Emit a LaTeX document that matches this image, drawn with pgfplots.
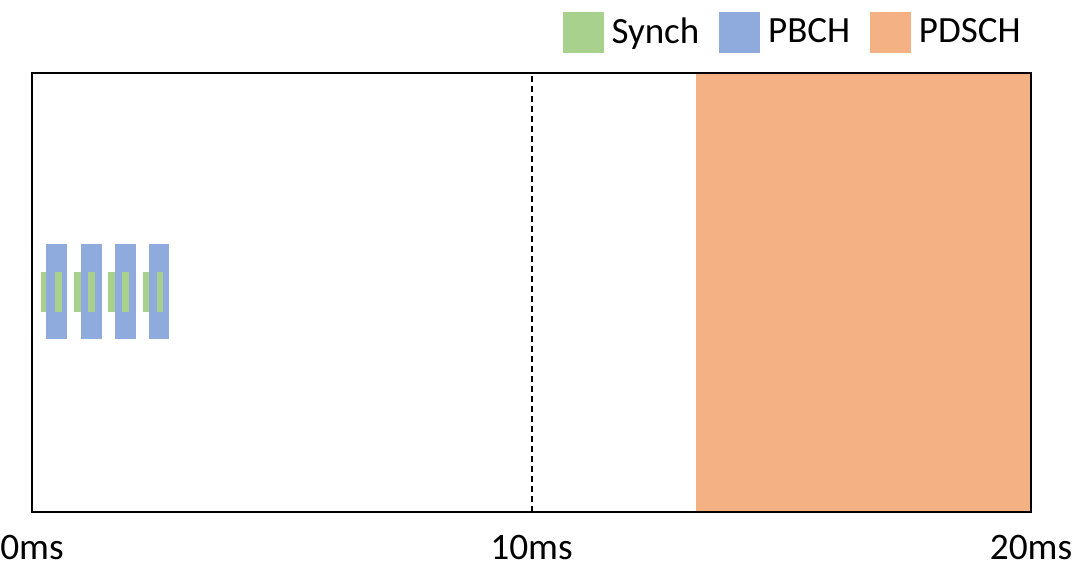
\documentclass[border=0pt]{standalone}
\usepackage{fontspec}
\setmainfont{Carlito}
\usepackage{pgfplots}
\pgfplotsset{compat=1.18}

\definecolor{synchgreen}{HTML}{A9D18E}
\definecolor{pbchblue}{HTML}{8FAADC}
\definecolor{pdschorange}{HTML}{F4B183}

\begin{document}
\begin{tikzpicture}
\begin{axis}[
    scale only axis,
    width=499.5pt, height=219.5pt,
    xmin=0, xmax=20, ymin=0, ymax=1,
    axis line style={line width=1pt},
    xtick={0,10,20},
    xticklabels={0ms,10ms,20ms},
    ytick=\empty,
    major tick length=0pt,
    xticklabel style={font=\fontsize{18.7}{21}\selectfont, yshift=-8pt},
    legend columns=3,
    legend style={draw=none, fill=none, at={(1,1)}, anchor=south east,
        yshift=8pt, font=\fontsize{18.5}{22}\selectfont,
        /tikz/every even column/.append style={column sep=8pt}},
    axis on top,
]
% legend entries
\addlegendimage{legend image code/.code={\fill[synchgreen] (0pt,-10pt) rectangle (20pt,10pt); \path (22pt,0pt);}}
\addlegendentry{Synch}
\addlegendimage{legend image code/.code={\fill[pbchblue] (0pt,-10pt) rectangle (20pt,10pt); \path (22pt,0pt);}}
\addlegendentry{PBCH}
\addlegendimage{legend image code/.code={\fill[pdschorange] (0pt,-10pt) rectangle (20pt,10pt); \path (22pt,0pt);}}
\addlegendentry{PDSCH}

% PDSCH
\addplot[forget plot, fill=pdschorange, draw=none] coordinates {(13.3,0) (20,0) (20,1) (13.3,1)} -- cycle;

% Synch (outer part)
\addplot[forget plot, fill=synchgreen, draw=none] coordinates {(0.18,0.456) (0.30,0.456) (0.30,0.547) (0.18,0.547)} -- cycle;
\addplot[forget plot, fill=synchgreen, draw=none] coordinates {(0.85,0.456) (0.98,0.456) (0.98,0.547) (0.85,0.547)} -- cycle;
\addplot[forget plot, fill=synchgreen, draw=none] coordinates {(1.52,0.456) (1.66,0.456) (1.66,0.547) (1.52,0.547)} -- cycle;
\addplot[forget plot, fill=synchgreen, draw=none] coordinates {(2.22,0.456) (2.35,0.456) (2.35,0.547) (2.22,0.547)} -- cycle;

% PBCH
\addplot[forget plot, fill=pbchblue, draw=none] coordinates {(0.29,0.394) (0.71,0.394) (0.71,0.610) (0.29,0.610)} -- cycle;
\addplot[forget plot, fill=pbchblue, draw=none] coordinates {(0.98,0.394) (1.40,0.394) (1.40,0.610) (0.98,0.610)} -- cycle;
\addplot[forget plot, fill=pbchblue, draw=none] coordinates {(1.66,0.394) (2.08,0.394) (2.08,0.610) (1.66,0.610)} -- cycle;
\addplot[forget plot, fill=pbchblue, draw=none] coordinates {(2.35,0.394) (2.75,0.394) (2.75,0.610) (2.35,0.610)} -- cycle;

% Synch (inside PBCH)
\addplot[forget plot, fill=synchgreen, draw=none] coordinates {(0.46,0.456) (0.61,0.456) (0.61,0.547) (0.46,0.547)} -- cycle;
\addplot[forget plot, fill=synchgreen, draw=none] coordinates {(1.13,0.456) (1.27,0.456) (1.27,0.547) (1.13,0.547)} -- cycle;
\addplot[forget plot, fill=synchgreen, draw=none] coordinates {(1.80,0.456) (1.94,0.456) (1.94,0.547) (1.80,0.547)} -- cycle;
\addplot[forget plot, fill=synchgreen, draw=none] coordinates {(2.50,0.456) (2.63,0.456) (2.63,0.547) (2.50,0.547)} -- cycle;

% 10 ms boundary
\addplot[forget plot, black, line width=1pt, dash pattern=on 3pt off 2pt] coordinates {(10,0) (10,1)};
\end{axis}
% page size as in the reference
\pgfresetboundingbox
\path (current axis.south west) ++(-16pt,-28pt) coordinate (bl);
\path (current axis.north east) ++(28.5pt,36.5pt) coordinate (tr);
\useasboundingbox (bl) rectangle (tr);
\end{tikzpicture}
\end{document}
